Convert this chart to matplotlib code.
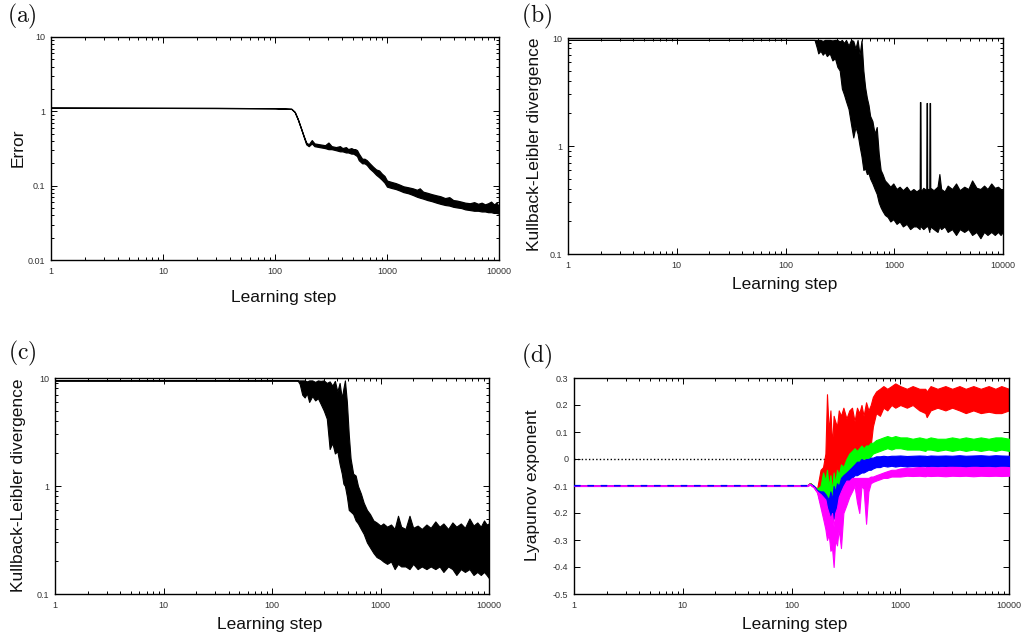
import matplotlib
matplotlib.use('Agg')
import matplotlib.pyplot as plt
from matplotlib.ticker import LogLocator, NullFormatter, NullLocator

plt.rcParams['font.family'] = ['Liberation Sans', 'DejaVu Sans']
plt.rcParams['mathtext.fontset'] = 'cm'

# ---------------- data ----------------
x_ticks = [1, 10, 100, 1000, 10000]
x_tick_labels = ['1', '10', '100', '1000', '10000']

# (a) training error (band: low / high envelope of noisy curve)
a_steps = [1, 30, 100, 140, 150, 160, 170, 180, 190, 200,
           213, 225, 250, 280, 300, 320, 350, 380, 400, 430,
           450, 480, 500, 520, 540, 560, 600, 630, 660, 700,
           750, 800, 850, 900, 950, 1000, 1100, 1200, 1300, 1400,
           1550, 1700, 1850, 1960, 2100, 2300, 2500, 2770, 3000, 3300,
           3600, 3900, 4200, 4600, 5000, 5500, 6000, 6500, 7000, 7500,
           8000, 8500, 9000, 9500, 10000]
a_lo = [1.12, 1.11, 1.10, 1.08, 0.98, 0.78, 0.60, 0.46, 0.36, 0.34,
        0.37, 0.34, 0.33, 0.32, 0.31, 0.31, 0.30, 0.29, 0.29, 0.28,
        0.28, 0.27, 0.27, 0.26, 0.25, 0.22, 0.20, 0.20, 0.19, 0.17,
        0.155, 0.14, 0.13, 0.12, 0.11, 0.097, 0.093, 0.090, 0.086, 0.082,
        0.079, 0.075, 0.071, 0.069, 0.067, 0.064, 0.062, 0.059, 0.057, 0.055,
        0.054, 0.052, 0.051, 0.050, 0.048, 0.047, 0.046, 0.046, 0.045, 0.045,
        0.044, 0.044, 0.043, 0.043, 0.042]
a_hi = [1.12, 1.11, 1.10, 1.08, 0.98, 0.78, 0.60, 0.47, 0.38, 0.36,
        0.41, 0.37, 0.36, 0.35, 0.38, 0.34, 0.33, 0.34, 0.32, 0.33,
        0.31, 0.32, 0.31, 0.31, 0.30, 0.27, 0.23, 0.23, 0.22, 0.20,
        0.18, 0.165, 0.16, 0.145, 0.135, 0.117, 0.112, 0.108, 0.103, 0.098,
        0.095, 0.092, 0.088, 0.092, 0.083, 0.080, 0.077, 0.074, 0.072, 0.068,
        0.070, 0.064, 0.063, 0.061, 0.059, 0.058, 0.060, 0.057, 0.059, 0.056,
        0.058, 0.061, 0.056, 0.059, 0.052]

# (b) Kullback-Leibler divergence
b_steps = [1, 185, 195, 200, 210, 220, 230, 240, 255, 270,
           285, 300, 315, 330, 345, 360, 380, 400, 420, 440,
           460, 480, 500, 520, 540, 560, 580, 600, 630, 660,
           690, 720, 750, 780, 820, 870, 920, 980, 1050, 1120,
           1200, 1300, 1400, 1500, 1600, 1712, 1722, 1742, 1752, 1850,
           1970, 1980, 2000, 2010, 2100, 2110, 2135, 2145, 2300, 2500,
           2600, 2700, 2900, 3100, 3400, 3700, 4000, 4400, 4800, 5200,
           5700, 6200, 6700, 7200, 7800, 8400, 9000, 9500, 10000]
b_lo = [9.6, 9.6, 8.0, 7.2, 7.6, 7.0, 7.4, 6.8, 7.2, 6.2,
        6.5, 5.4, 5.0, 3.4, 3.0, 2.6, 2.2, 1.6, 1.2, 1.5,
        1.3, 1.0, 0.8, 0.6, 0.62, 0.55, 0.56, 0.50, 0.45, 0.40,
        0.36, 0.30, 0.27, 0.25, 0.23, 0.22, 0.20, 0.21, 0.19, 0.20,
        0.18, 0.19, 0.17, 0.18, 0.18, 0.17, 0.19, 0.19, 0.18, 0.17,
        0.18, 0.19, 0.18, 0.19, 0.16, 0.18, 0.17, 0.18, 0.17, 0.16,
        0.18, 0.17, 0.18, 0.16, 0.17, 0.15, 0.17, 0.16, 0.17, 0.15,
        0.16, 0.14, 0.16, 0.15, 0.16, 0.15, 0.16, 0.15, 0.16]
b_hi = [9.6, 9.6, 9.6, 9.6, 9.6, 9.4, 9.6, 9.6, 9.6, 9.5,
        9.6, 9.6, 9.3, 9.6, 9.0, 9.6, 8.5, 9.6, 9.4, 8.0,
        9.6, 7.0, 9.5, 5.0, 3.5, 2.8, 2.4, 1.9, 1.7, 1.3,
        1.5, 0.85, 0.60, 0.55, 0.48, 0.45, 0.42, 0.45, 0.40, 0.42,
        0.39, 0.42, 0.38, 0.40, 0.38, 0.40, 2.55, 2.55, 0.38, 0.41,
        0.39, 2.5, 2.5, 0.40, 0.40, 2.5, 2.5, 0.41, 0.39, 0.42,
        0.55, 0.40, 0.38, 0.43, 0.40, 0.45, 0.39, 0.42, 0.40, 0.48,
        0.41, 0.40, 0.43, 0.40, 0.45, 0.41, 0.42, 0.40, 0.39]

# (c) Kullback-Leibler divergence (second run)
c_steps = [1, 172, 180, 190, 200, 210, 220, 235, 250, 265,
           280, 300, 320, 340, 360, 380, 400, 420, 440, 455,
           470, 490, 510, 530, 560, 590, 620, 660, 700, 750,
           800, 860, 920, 1000, 1060, 1150, 1250, 1350, 1450, 1550,
           1700, 1850, 2000, 2200, 2400, 2650, 2900, 3200, 3500, 3800,
           4200, 4600, 5000, 5500, 6000, 6600, 7200, 7800, 8400, 9000,
           9500, 10000]
c_lo = [9.5, 9.5, 8.8, 7.0, 6.6, 7.2, 6.0, 6.8, 6.2, 6.5,
        5.8, 5.0, 4.2, 2.2, 2.5, 2.0, 2.1, 1.6, 1.3, 1.05,
        1.0, 0.8, 0.6, 0.58, 0.55, 0.48, 0.45, 0.40, 0.36, 0.30,
        0.27, 0.24, 0.22, 0.21, 0.20, 0.19, 0.20, 0.17, 0.19, 0.18,
        0.18, 0.17, 0.19, 0.17, 0.18, 0.17, 0.18, 0.17, 0.18, 0.16,
        0.18, 0.17, 0.15, 0.17, 0.16, 0.17, 0.15, 0.16, 0.15, 0.16,
        0.15, 0.14]
c_hi = [9.5, 9.5, 9.5, 9.5, 9.5, 9.3, 9.5, 9.5, 9.2, 9.5,
        9.4, 9.5, 9.0, 9.3, 8.5, 9.4, 7.5, 9.0, 6.5, 8.0,
        9.5, 6.0, 3.0, 1.8, 1.3, 1.25, 1.0, 0.85, 0.70, 0.60,
        0.55, 0.48, 0.46, 0.43, 0.45, 0.42, 0.44, 0.40, 0.53, 0.42,
        0.40, 0.53, 0.41, 0.43, 0.40, 0.44, 0.41, 0.47, 0.42, 0.45,
        0.40, 0.46, 0.42, 0.45, 0.41, 0.50, 0.43, 0.46, 0.42, 0.48,
        0.44, 0.45]

# (d) Lyapunov exponents (four exponents, low / high envelopes)
d_steps = [1, 140, 148, 160, 172, 185, 195, 205, 212, 220,
           228, 236, 244, 252, 262, 272, 285, 300, 320, 340,
           360, 380, 400, 420, 440, 460, 485, 510, 535, 560,
           600, 650, 700, 760, 830, 900, 1000, 1150, 1300, 1500,
           1700, 1750, 1900, 2200, 2600, 3000, 3500, 4000, 4700, 5500,
           6500, 7500, 8500, 10000]
red_lo = [-0.097, -0.097, -0.089, -0.100, -0.115, -0.15, -0.19, -0.20, -0.21, -0.18,
          -0.22, -0.20, -0.22, -0.18, -0.20, -0.15, -0.12, -0.08, -0.05, -0.03,
          -0.02, -0.01, 0.00, 0.01, 0.02, 0.02, 0.03, 0.04, 0.05, 0.12,
          0.17, 0.16, 0.19, 0.18, 0.20, 0.19, 0.20, 0.19, 0.20, 0.18,
          0.17, 0.155, 0.18, 0.19, 0.18, 0.19, 0.18, 0.17, 0.18, 0.17,
          0.175, 0.17, 0.17, 0.18]
red_hi = [-0.097, -0.097, -0.089, -0.100, -0.110, -0.04, -0.03, 0.02, 0.24, 0.10,
          0.18, 0.05, 0.16, 0.14, 0.12, 0.18, 0.16, 0.19, 0.15, 0.18,
          0.19, 0.14, 0.19, 0.17, 0.20, 0.16, 0.21, 0.18, 0.20, 0.23,
          0.25, 0.26, 0.27, 0.26, 0.27, 0.28, 0.27, 0.26, 0.27, 0.26,
          0.26, 0.25, 0.27, 0.26, 0.27, 0.26, 0.27, 0.26, 0.27, 0.26,
          0.27, 0.26, 0.27, 0.26]
green_lo = [-0.098, -0.098, -0.090, -0.100, -0.12, -0.16, -0.18, -0.22, -0.20, -0.22,
            -0.21, -0.22, -0.20, -0.18, -0.17, -0.15, -0.12, -0.10, -0.08, -0.06,
            -0.04, -0.03, -0.03, -0.02, -0.02, -0.01, 0.00, 0.00, 0.01, 0.02,
            0.025, 0.03, 0.035, 0.04, 0.035, 0.04, 0.04, 0.035, 0.035, 0.035,
            0.03, 0.035, 0.035, 0.03, 0.035, 0.03, 0.035, 0.03, 0.035, 0.03,
            0.035, 0.03, 0.035, 0.03]
green_hi = [-0.098, -0.098, -0.090, -0.100, -0.11, -0.10, -0.05, -0.08, -0.04, -0.10,
            -0.06, -0.12, -0.05, -0.09, -0.04, -0.06, -0.02, -0.03, 0.00, 0.02,
            0.03, 0.04, 0.03, 0.04, 0.05, 0.04, 0.05, 0.05, 0.06, 0.06,
            0.07, 0.075, 0.08, 0.085, 0.08, 0.085, 0.08, 0.08, 0.075, 0.08,
            0.075, 0.075, 0.08, 0.075, 0.075, 0.08, 0.075, 0.08, 0.075, 0.08,
            0.075, 0.08, 0.08, 0.075]
blue_lo = [-0.099, -0.099, -0.092, -0.100, -0.12, -0.17, -0.20, -0.22, -0.24, -0.23,
           -0.24, -0.23, -0.22, -0.20, -0.18, -0.16, -0.13, -0.11, -0.10, -0.08,
           -0.07, -0.06, -0.06, -0.055, -0.05, -0.05, -0.045, -0.04, -0.04, -0.035,
           -0.03, -0.03, -0.025, -0.028, -0.025, -0.028, -0.025, -0.028, -0.026, -0.028,
           -0.026, -0.03, -0.027, -0.028, -0.026, -0.028, -0.027, -0.029, -0.026, -0.028,
           -0.027, -0.029, -0.026, -0.028]
blue_hi = [-0.099, -0.099, -0.092, -0.100, -0.115, -0.12, -0.12, -0.13, -0.14, -0.15,
           -0.12, -0.15, -0.10, -0.12, -0.09, -0.10, -0.07, -0.06, -0.05, -0.04,
           -0.03, -0.02, -0.01, -0.01, 0.00, -0.005, 0.00, 0.00, 0.005, 0.005,
           0.01, 0.01, 0.012, 0.01, 0.012, 0.012, 0.013, 0.011, 0.012, 0.013,
           0.012, 0.011, 0.013, 0.012, 0.013, 0.012, 0.014, 0.012, 0.013, 0.014,
           0.012, 0.014, 0.013, 0.012]
magenta_lo = [-0.100, -0.100, -0.094, -0.105, -0.125, -0.18, -0.22, -0.26, -0.30, -0.28,
              -0.34, -0.33, -0.40, -0.30, -0.32, -0.26, -0.33, -0.20, -0.17, -0.14,
              -0.12, -0.10, -0.16, -0.20, -0.10, -0.11, -0.24, -0.12, -0.09, -0.085,
              -0.08, -0.075, -0.07, -0.07, -0.065, -0.065, -0.065, -0.062, -0.063, -0.062,
              -0.064, -0.062, -0.063, -0.062, -0.064, -0.062, -0.063, -0.062, -0.064, -0.062,
              -0.063, -0.062, -0.063, -0.062]
magenta_hi = [-0.100, -0.100, -0.094, -0.105, -0.120, -0.13, -0.14, -0.15, -0.18, -0.20,
              -0.22, -0.20, -0.25, -0.20, -0.18, -0.14, -0.12, -0.10, -0.08, -0.08,
              -0.07, -0.07, -0.07, -0.07, -0.07, -0.07, -0.07, -0.07, -0.065, -0.065,
              -0.06, -0.055, -0.05, -0.045, -0.04, -0.04, -0.035, -0.033, -0.032, -0.03,
              -0.031, -0.03, -0.03, -0.031, -0.03, -0.029, -0.03, -0.031, -0.029, -0.03,
              -0.03, -0.031, -0.029, -0.03]

d_yticks = [-0.5, -0.4, -0.3, -0.2, -0.1, 0.0, 0.1, 0.2, 0.3]
d_ytick_labels = ['-0.5', '-0.4', '-0.3', '-0.2', '-0.1', '0', '0.1', '0.2', '0.3']

# ---------------- figure ----------------
W, H = 1026, 644
fig = plt.figure(figsize=(W / 100, H / 100), dpi=100)


def px_axes(l, t, r, b):
    return fig.add_axes([l / W, 1 - b / H, (r - l) / W, (b - t) / H])


def style(ax, ylog):
    ax.set_xscale('log')
    ax.set_xlim(1, 10000)
    ax.set_xticks(x_ticks)
    ax.set_xticklabels(x_tick_labels)
    ax.xaxis.set_minor_locator(LogLocator(base=10, subs=(2, 3, 4, 5, 6, 7, 8, 9)))
    ax.xaxis.set_minor_formatter(NullFormatter())
    if ylog:
        ax.yaxis.set_minor_locator(LogLocator(base=10, subs=(2, 3, 4, 5, 6, 7, 8, 9)))
        ax.yaxis.set_minor_formatter(NullFormatter())
    else:
        ax.yaxis.set_minor_locator(NullLocator())
    ax.tick_params(which='both', direction='in', top=True, right=True,
                   labelsize=6.5, labelcolor='#333333', width=0.7)
    ax.tick_params(which='major', length=4)
    ax.tick_params(which='minor', length=2)
    ax.tick_params(axis='x', pad=5)
    ax.tick_params(axis='y', pad=4)
    for s in ax.spines.values():
        s.set_linewidth(1.0)


def band(ax, x, lo, hi, color, lw=0.8, z=2):
    ax.fill_between(x, lo, hi, facecolor=color, edgecolor=color,
                    linewidth=lw, zorder=z)


def ftext(x, y, s, **kw):
    fig.text(x / W, 1 - y / H, s, ha='center', va='center', **kw)


# (a)
axa = px_axes(51, 37, 499, 260)
style(axa, True)
axa.set_yscale('log')
axa.set_ylim(0.01, 10)
axa.set_yticks([0.01, 0.1, 1, 10])
axa.set_yticklabels(['0.01', '0.1', '1', '10'])
band(axa, a_steps, a_lo, a_hi, 'black', lw=0.9)

# (b)
axb = px_axes(568, 38, 1003, 254)
style(axb, True)
axb.set_yscale('log')
axb.set_ylim(0.1, 10)
axb.set_yticks([0.1, 1, 10])
axb.set_yticklabels(['0.1', '1', '10'])
band(axb, b_steps, b_lo, b_hi, 'black', lw=0.8)

# (c)
axc = px_axes(55, 378, 489, 594)
style(axc, True)
axc.set_yscale('log')
axc.set_ylim(0.1, 10)
axc.set_yticks([0.1, 1, 10])
axc.set_yticklabels(['0.1', '1', '10'])
band(axc, c_steps, c_lo, c_hi, 'black', lw=0.8)

# (d)
axd = px_axes(574, 378, 1009, 594)
style(axd, False)
axd.set_ylim(-0.5, 0.3)
axd.set_yticks(d_yticks)
axd.set_yticklabels(d_ytick_labels)
axd.plot([1, 10000], [0, 0], color='black', lw=1.0, ls=(0, (1, 1.6)), zorder=1)
band(axd, d_steps, red_lo, red_hi, '#ff0000', lw=0.8, z=2)
band(axd, d_steps, green_lo, green_hi, '#00ff00', lw=0.8, z=3)
band(axd, d_steps, blue_lo, blue_hi, '#0000ff', lw=0.8, z=4)
band(axd, d_steps, magenta_lo, magenta_hi, '#ff00ff', lw=0.8, z=5)
axd.plot(d_steps[:4], blue_lo[:4], color='#0000ff', lw=1.2, ls=(0, (4, 4)), zorder=6)
axd.plot(d_steps[:4], magenta_lo[:4], color='#ff00ff', lw=1.2, ls=(4, (4, 4)), zorder=6)

# labels
lab_kw = dict(fontsize=12.5, color='#111111')
ftext(284, 298, 'Learning step', **lab_kw)
ftext(785, 285, 'Learning step', **lab_kw)
ftext(270, 625, 'Learning step', **lab_kw)
ftext(795, 625, 'Learning step', **lab_kw)
ftext(18, 148, 'Error', rotation=90, **lab_kw)
ftext(534, 144, 'Kullback-Leibler divergence', rotation=90, **lab_kw)
ftext(19, 485, 'Kullback-Leibler divergence', rotation=90, **lab_kw)
ftext(533, 485, 'Lyapunov exponent', rotation=90, **lab_kw)

pan_kw = dict(fontsize=17, color='#111111')
ftext(22, 16, r'$\mathrm{(a)}$', **pan_kw)
ftext(537, 16, r'$\mathrm{(b)}$', **pan_kw)
ftext(22, 353, r'$\mathrm{(c)}$', **pan_kw)
ftext(537, 356, r'$\mathrm{(d)}$', **pan_kw)

fig.savefig('out.png', dpi=100)
